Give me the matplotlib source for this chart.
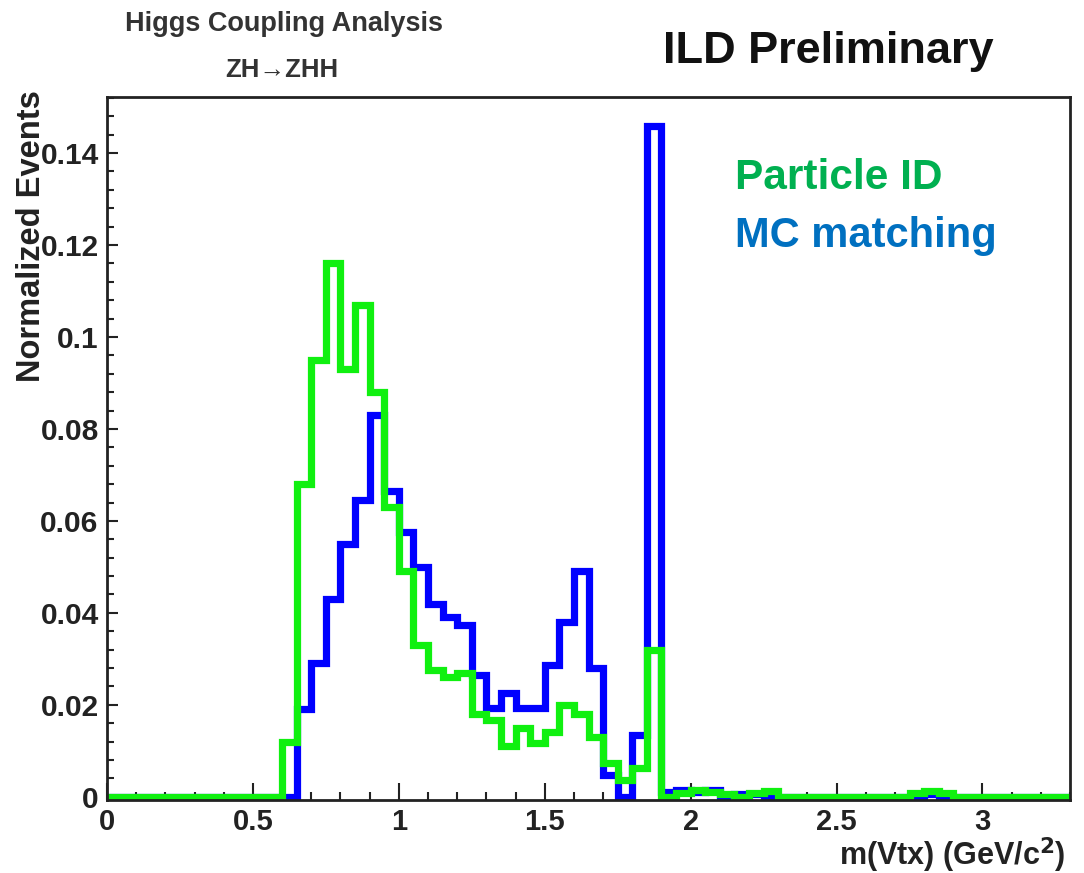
import numpy as np
import matplotlib
matplotlib.use("Agg")
import matplotlib.pyplot as plt
from matplotlib.ticker import MultipleLocator, FixedLocator

# Histogram binning: 0.05 wide bins from 0 to 3.3
bin_edges = np.round(np.arange(0, 3.3001, 0.05), 3)

# MC matching (blue), one value per bin
mc_matching = [
    0, 0, 0, 0, 0, 0, 0, 0, 0, 0, 0, 0,          # 0.00 - 0.60
    0.0, 0.019, 0.029, 0.043, 0.055, 0.0646,     # 0.60 - 0.90
    0.083, 0.0665, 0.0575, 0.050, 0.042, 0.039,  # 0.90 - 1.20
    0.0374, 0.0265, 0.0193, 0.0226, 0.0193, 0.0193,  # 1.20 - 1.50
    0.0287, 0.038, 0.049, 0.028, 0.0048, 0.0,    # 1.50 - 1.80
    0.0135, 0.146, 0.001, 0.0015, 0.001, 0.0015,  # 1.80 - 2.10
    0.0, 0.0005, 0.0005, 0.0, 0.0, 0.0,          # 2.10 - 2.40
    0.0, 0.0, 0.0, 0.0, 0.0, 0.0,                # 2.40 - 2.70
    0.0, 0.0, 0.0005, 0.0, 0.0, 0.0,             # 2.70 - 3.00
    0.0, 0.0, 0.0, 0.0, 0.0, 0.0,                # 3.00 - 3.30
]

# Particle ID (green)
particle_id = [
    0, 0, 0, 0, 0, 0, 0, 0, 0, 0, 0, 0,          # 0.00 - 0.60
    0.012, 0.068, 0.095, 0.116, 0.093, 0.107,    # 0.60 - 0.90
    0.088, 0.063, 0.049, 0.033, 0.0276, 0.026,   # 0.90 - 1.20
    0.027, 0.018, 0.0167, 0.011, 0.015, 0.0117,  # 1.20 - 1.50
    0.014, 0.020, 0.018, 0.013, 0.0073, 0.0037,  # 1.50 - 1.80
    0.0063, 0.032, 0.0, 0.0008, 0.0015, 0.001,   # 1.80 - 2.10
    0.0005, 0.0, 0.0008, 0.0012, 0.0, 0.0,       # 2.10 - 2.40
    0.0, 0.0, 0.0, 0.0, 0.0, 0.0,                # 2.40 - 2.70
    0.0, 0.0008, 0.0012, 0.0008, 0.0, 0.0,       # 2.70 - 3.00
    0.0, 0.0, 0.0, 0.0, 0.0, 0.0,                # 3.00 - 3.30
]

x_ticks = [0, 0.5, 1, 1.5, 2, 2.5, 3]
x_tick_labels = ["0", "0.5", "1", "1.5", "2", "2.5", "3"]
y_ticks = [0, 0.02, 0.04, 0.06, 0.08, 0.1, 0.12, 0.14]
y_tick_labels = ["0", "0.02", "0.04", "0.06", "0.08", "0.1", "0.12", "0.14"]

plt.rcParams['font.family'] = ['Liberation Sans', 'DejaVu Sans']

W, H = 1084, 873
fig = plt.figure(figsize=(W / 100, H / 100), dpi=100)
ax = fig.add_axes([107 / W, (H - 800) / H, (1070 - 107) / W, (800 - 97) / H])

ax.stairs(mc_matching, bin_edges, color='#0000ff', lw=5.2, baseline=0, zorder=2)
ax.stairs(particle_id, bin_edges, color='#10f010', lw=5.2, baseline=0, zorder=3)

ax.set_xlim(0, 3.3)
ax.set_ylim(-0.0007, 0.1522)

ax.xaxis.set_major_locator(FixedLocator(x_ticks))
ax.set_xticklabels(x_tick_labels)
ax.xaxis.set_minor_locator(MultipleLocator(0.1))
ax.yaxis.set_major_locator(FixedLocator(y_ticks))
ax.set_yticklabels(y_tick_labels)
ax.yaxis.set_minor_locator(MultipleLocator(0.004))

ax.tick_params(axis='x', which='major', direction='in', length=12, width=1.5,
               labelsize=21, pad=6, color='#222222')
ax.tick_params(axis='x', which='minor', direction='in', length=6, width=1.5,
               color='#222222')
ax.tick_params(axis='y', which='major', direction='in', length=8, width=1.5,
               labelsize=21.5, pad=6, color='#222222')
ax.tick_params(axis='y', which='minor', direction='in', length=5, width=1.5,
               color='#222222')
for lab in ax.get_xticklabels() + ax.get_yticklabels():
    lab.set_fontweight('bold')
    lab.set_color('#222222')

for sp in ax.spines.values():
    sp.set_linewidth(2)
    sp.set_color('#222222')
    sp.set_zorder(4)

# axis titles, ROOT-style placement
fig.text(32 / W, 1 - 90 / H, "Normalized Events", rotation=90, ha='center',
         va='top', fontsize=23.5, fontweight='bold', color='#222222')
fig.text(1066 / W, 1 - 855 / H, r"m(Vtx) (GeV/c$^\mathbf{2}$)", ha='right',
         va='center', fontsize=22, fontweight='bold', color='#222222')

# header texts
fig.text(284 / W, 1 - 24 / H, "Higgs Coupling Analysis", ha='center',
         va='center', fontsize=19.5, fontweight='bold', color='#333333')
fig.text(282 / W, 1 - 70 / H, "ZH\u2192ZHH", ha='center', va='center',
         fontsize=18.5, fontweight='bold', color='#333333')
fig.text(828 / W, 1 - 52 / H, "ILD Preliminary", ha='center', va='center',
         fontsize=32.5, fontweight='bold', color='#111111')

# legend texts
fig.text(735 / W, 1 - 178 / H, "Particle ID", ha='left', va='center',
         fontsize=30.5, fontweight='bold', color='#00b050')
fig.text(735 / W, 1 - 236 / H, "MC matching", ha='left', va='center',
         fontsize=30, fontweight='bold', color='#0070c0')

fig.savefig("out.png", dpi=100)
